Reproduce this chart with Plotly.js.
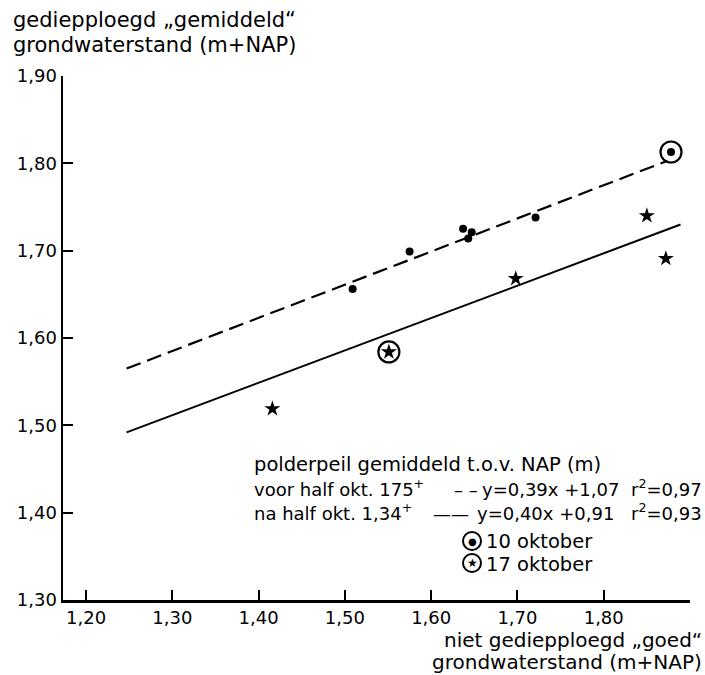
<!DOCTYPE html>
<html><head><meta charset="utf-8">
<script src="https://cdn.plot.ly/plotly-3.0.1.min.js"></script>
<style>body{margin:0;background:#fff}#chart{width:705px;height:675px}</style>
</head><body><div id="chart"></div>
<script>
// ---- data ----
const xTickVals = [1.20, 1.30, 1.40, 1.50, 1.60, 1.70, 1.80, 1.90];
const xTickText = ['1,20', '1,30', '1,40', '1,50', '1,60', '1,70', '1,80', '1,90'];
const yTickVals = [1.30, 1.40, 1.50, 1.60, 1.70, 1.80, 1.90];
const yTickText = ['1,30', '1,40', '1,50', '1,60', '1,70', '1,80', '1,90'];

// voor half oktober (dots)
const voorX = [1.509, 1.575, 1.637, 1.647, 1.643, 1.721, 1.878];
const voorY = [1.656, 1.699, 1.725, 1.721, 1.714, 1.738, 1.813];
// na half oktober (stars)
const naX = [1.416, 1.551, 1.698, 1.850, 1.872];
const naY = [1.519, 1.584, 1.668, 1.740, 1.691];
// circled observations
const oct10Index = 6;   // in voor series
const oct17Index = 1;   // in na series

// regression lines as drawn
const fitVoorX = [1.247, 1.874];
const fitVoorY = [1.565, 1.803];
const fitNaX = [1.247, 1.889];
const fitNaY = [1.492, 1.730];

// ---- layout helpers (pixel -> paper) ----
const L = 63, R = 690, T = 76, B = 600;
const px = v => (v - L) / (R - L);
const py = v => (B - v) / (B - T);
const FONT = 'DejaVu Sans, sans-serif';

const traces = [
  {x: fitVoorX, y: fitVoorY, mode: 'lines', line: {color: '#000', width: 2.2, dash: '15px,7px'}, hoverinfo: 'skip'},
  {x: fitNaX, y: fitNaY, mode: 'lines', line: {color: '#000', width: 2}, hoverinfo: 'skip'},
  {x: voorX, y: voorY, mode: 'markers', marker: {symbol: 'circle', size: 8, color: '#000'}, cliponaxis: false},
  {x: naX, y: naY, mode: 'markers', marker: {symbol: 'star', size: 12, color: '#000'}, cliponaxis: false},
  {x: [voorX[oct10Index], naX[oct17Index]], y: [voorY[oct10Index], naY[oct17Index]], mode: 'markers',
   marker: {symbol: 'circle-open', size: 21, color: '#000', line: {width: 2.2, color: '#000'}}, cliponaxis: false}
];

function ann(text, x, y, xanchor, size) {
  return {text: text, x: px(x), y: py(y), xref: 'paper', yref: 'paper', xanchor: xanchor, yanchor: 'middle',
          showarrow: false, font: {family: FONT, size: size, color: '#000'}};
}

const LS = 19.5, ES = 18;
const annotations = [
  ann('gediepploegd „gemiddeld“', 11, 20, 'left', 21),
  ann('grondwaterstand (m+NAP)', 11, 45, 'left', 21),
  ann('niet gediepploegd „goed“', 704, 640, 'right', 20),
  ann('grondwaterstand (m+NAP)', 704, 662, 'right', 20),
  ann('polderpeil gemiddeld t.o.v. NAP (m)', 252, 464, 'left', LS),
  ann('voor half okt. 175<sup>+</sup>', 252, 488, 'left', ES),
  ann('– –', 452, 489, 'left', ES),
  ann('y=0,39x +1,07', 621, 489, 'right', ES),
  ann('r<sup>2</sup>=0,97', 704, 488, 'right', ES),
  ann('na half okt. 1,34<sup>+</sup>', 252, 512, 'left', ES),
  ann('——', 431, 513, 'left', ES),
  ann('y=0,40x +0,91', 616, 513, 'right', ES),
  ann('r<sup>2</sup>=0,93', 704, 512, 'right', ES),
  ann('●', 472, 541, 'center', 10),
  ann('★', 472, 563, 'center', 12),
  ann('10 oktober', 484, 541, 'left', LS),
  ann('17 oktober', 484, 564, 'left', LS)
];

const shapes = [541, 563].map(cy => ({
  type: 'circle', xref: 'paper', yref: 'paper', xsizemode: 'pixel', ysizemode: 'pixel',
  xanchor: px(472), yanchor: py(cy), x0: -9, x1: 9, y0: -9, y1: 9,
  line: {color: '#000', width: 2}
}));

const axisCommon = {
  showgrid: false, zeroline: false, showline: true, linecolor: '#000', linewidth: 2.5,
  ticks: 'inside', ticklen: 10, tickwidth: 2, tickcolor: '#000',
  tickfont: {family: FONT, size: 18, color: '#000'}
};

const layout = {
  width: 705, height: 675,
  margin: {l: L, r: 705 - R, t: T, b: 675 - B},
  paper_bgcolor: '#fff', plot_bgcolor: '#fff',
  showlegend: false,
  xaxis: Object.assign({}, axisCommon, {range: [1.1733, 1.90], tickvals: xTickVals, ticktext: xTickText}),
  yaxis: Object.assign({}, axisCommon, {range: [1.30, 1.90], tickvals: yTickVals, ticktext: yTickText}),
  annotations: annotations,
  shapes: shapes
};

Plotly.newPlot('chart', traces, layout, {staticPlot: true, displayModeBar: false});
</script>
</body></html>
